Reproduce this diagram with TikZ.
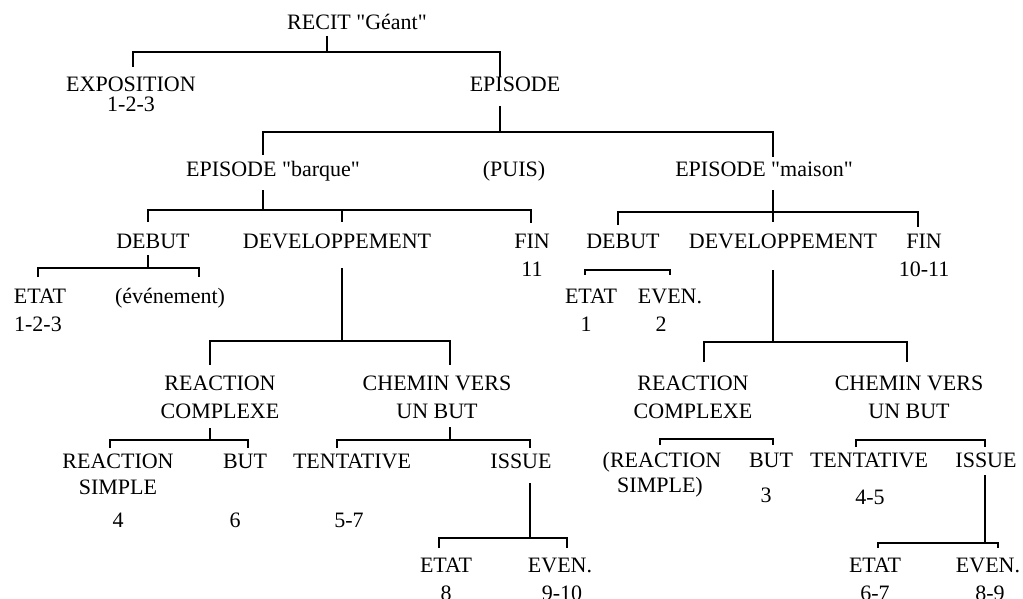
\documentclass[tikz,border=0pt]{standalone}
\usepackage{fontspec}
\setmainfont{Liberation Serif}[Ligatures=TeXOff]
\usetikzlibrary{calc}
\begin{document}
\begin{tikzpicture}[x=1pt,y=-1pt,
  lab/.style={anchor=base,inner sep=0pt,font=\fontsize{22pt}{26pt}\selectfont},
  br/.style={draw=black,line width=1.2pt}]
\useasboundingbox (0,0) rectangle (1023,599);
% ---- labels ----
\node[lab] (recit) at (357,30) {RECIT "Géant"};
\node[lab] (expo) at (131,92) {EXPOSITION};
\node[lab] (expoN) at (131,112) {1-2-3};
\node[lab] (episode) at (515,92) {EPISODE};
\node[lab] (barque) at (273,176) {EPISODE "barque"};
\node[lab] (puis) at (514,176) {(PUIS)};
\node[lab] (maison) at (764,176) {EPISODE "maison"};
\node[lab] (debutL) at (153,248) {DEBUT};
\node[lab] (devL) at (337,248) {DEVELOPPEMENT};
\node[lab] (finL) at (532,248) {FIN};
\node[lab] (finLN) at (532,276) {11};
\node[lab] (debutR) at (623,248) {DEBUT};
\node[lab] (devR) at (783,248) {DEVELOPPEMENT};
\node[lab] (finR) at (924,248) {FIN};
\node[lab] (finRN) at (924,276) {10-11};
\node[lab] (etatL) at (40,303) {ETAT};
\node[lab] (etatLN) at (38,331) {1-2-3};
\node[lab] (evenL) at (170,303) {(événement)};
\node[lab] (etatR) at (591,303) {ETAT};
\node[lab] (etatRN) at (586,331) {1};
\node[lab] (evenR) at (670,303) {EVEN.};
\node[lab] (evenRN) at (661,331) {2};
\node[lab] (rcL) at (220,390) {REACTION};
\node[lab] (rcL2) at (220,418) {COMPLEXE};
\node[lab] (chemL) at (437,390) {CHEMIN VERS};
\node[lab] (chemL2) at (437,418) {UN BUT};
\node[lab] (rsL) at (118,468) {REACTION};
\node[lab] (rsL2) at (118,494) {SIMPLE};
\node[lab] (rsLN) at (118,527) {4};
\node[lab] (butL) at (245,468) {BUT};
\node[lab] (butLN) at (235,527) {6};
\node[lab] (tentL) at (352,468) {TENTATIVE};
\node[lab] (tentLN) at (349,527) {5-7};
\node[lab] (issueL) at (521,468) {ISSUE};
\node[lab] (etatBL) at (446,572) {ETAT};
\node[lab] (etatBLN) at (446,600) {8};
\node[lab] (evenBL) at (560,572) {EVEN.};
\node[lab] (evenBLN) at (562,600) {9-10};
\node[lab] (rcR) at (693,390) {REACTION};
\node[lab] (rcR2) at (693,418) {COMPLEXE};
\node[lab] (chemR) at (909,390) {CHEMIN VERS};
\node[lab] (chemR2) at (909,418) {UN BUT};
\node[lab] (rsR) at (662,467) {(REACTION};
\node[lab] (rsR2) at (660,492) {SIMPLE)};
\node[lab] (butR) at (771,467) {BUT};
\node[lab] (butRN) at (766,502) {3};
\node[lab] (tentR) at (869,467) {TENTATIVE};
\node[lab] (tentRN) at (870,504) {4-5};
\node[lab] (issueR) at (986,467) {ISSUE};
\node[lab] (etatBR) at (875,572) {ETAT};
\node[lab] (etatBRN) at (875,600) {6-7};
\node[lab] (evenBR) at (988,572) {EVEN.};
\node[lab] (evenBRN) at (990,600) {8-9};
% ---- connectors ----
% RECIT
\draw[br] ($(recit.base)+(-30,6)$) -- ($(recit.base)+(-30,22)$);
\draw[br] ($(expo.base)+(2,-25)$) |- ($(episode.base)+(-15,-40)$) -- ($(episode.base)+(-15,-15)$);
% EPISODE
\draw[br] ($(episode.base)+(-15,14)$) -- ($(episode.base)+(-15,40)$);
\draw[br] ($(barque.base)+(-10,-21)$) |- ($(maison.base)+(9,-44)$) -- ($(maison.base)+(9,-19)$);
% EPISODE barque
\draw[br] ($(barque.base)+(-10,14)$) -- ($(barque.base)+(-10,34)$);
\draw[br] ($(debutL.base)+(-5,-26)$) |- ($(finL.base)+(-1,-38)$) -- ($(finL.base)+(-1,-25)$);
\draw[br] ($(devL.base)+(5,-38)$) -- ($(devL.base)+(5,-26)$);
% EPISODE maison
\draw[br] ($(maison.base)+(9,14)$) -- ($(devR.base)+(-10,-26)$);
\draw[br] ($(debutR.base)+(-5,-23)$) |- ($(finR.base)+(-6,-36)$) -- ($(finR.base)+(-6,-21)$);
% DEBUT left
\draw[br] ($(debutL.base)+(-5,7)$) -- ($(debutL.base)+(-5,20)$);
\draw[br] ($(etatL.base)+(-2,-26)$) |- ($(evenL.base)+(29,-35)$) -- ($(evenL.base)+(29,-26)$);
% DEBUT right
\draw[br] ($(etatR.base)+(-6,-28)$) |- ($(evenR.base)+(0,-33)$) -- ($(evenR.base)+(0,-28)$);
% DEVELOPPEMENT left
\draw[br] ($(devL.base)+(5,20)$) -- ($(devL.base)+(5,93)$);
\draw[br] ($(rcL.base)+(-10,-25)$) |- ($(chemL.base)+(13,-49)$) -- ($(chemL.base)+(13,-25)$);
% DEVELOPPEMENT right
\draw[br] ($(devR.base)+(-10,22)$) -- ($(devR.base)+(-10,94)$);
\draw[br] ($(rcR.base)+(11,-28)$) |- ($(chemR.base)+(-2,-48)$) -- ($(chemR.base)+(-2,-28)$);
% REACTION COMPLEXE left
\draw[br] ($(rcL2.base)+(-10,10)$) -- ($(rcL2.base)+(-10,22)$);
\draw[br] ($(rsL.base)+(-8,-20)$) |- ($(butL.base)+(3,-28)$) -- ($(butL.base)+(3,-20)$);
% CHEMIN left
\draw[br] ($(chemL2.base)+(13,9)$) -- ($(chemL2.base)+(13,22)$);
\draw[br] ($(tentL.base)+(-15,-20)$) |- ($(issueL.base)+(9,-28)$) -- ($(issueL.base)+(9,-20)$);
% REACTION COMPLEXE right
\draw[br] ($(rsR.base)+(-2,-22)$) |- ($(butR.base)+(2,-28)$) -- ($(butR.base)+(2,-22)$);
% CHEMIN right
\draw[br] ($(tentR.base)+(-13,-20)$) |- ($(issueR.base)+(-1,-27)$) -- ($(issueR.base)+(-1,-20)$);
% ISSUE left
\draw[br] ($(issueL.base)+(9,15)$) -- ($(issueL.base)+(9,70)$);
\draw[br] ($(etatBL.base)+(-7,-24)$) |- ($(evenBL.base)+(7,-34)$) -- ($(evenBL.base)+(7,-24)$);
% ISSUE right
\draw[br] ($(issueR.base)+(-1,8)$) -- ($(issueR.base)+(-1,76)$);
\draw[br] ($(etatBR.base)+(3,-24)$) |- ($(evenBR.base)+(10,-29)$) -- ($(evenBR.base)+(10,-24)$);
\end{tikzpicture}
\end{document}
